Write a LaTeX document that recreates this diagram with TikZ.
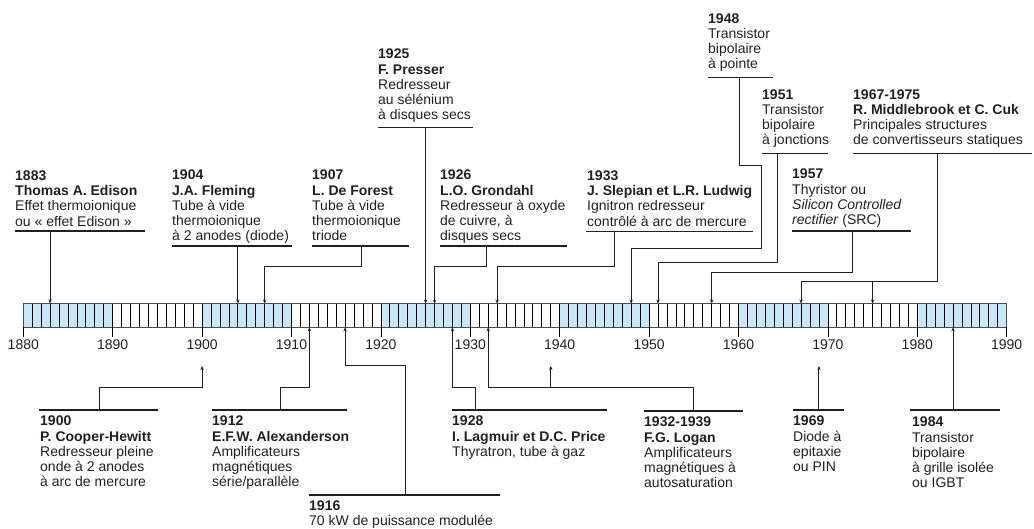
\documentclass[tikz,border=0pt]{standalone}
\usepackage{fontspec}
\setmainfont{Liberation Sans}
\usetikzlibrary{arrows.meta}
\definecolor{barblue}{RGB}{200,232,250}
\definecolor{inkgray}{RGB}{35,31,32}
\newcommand{\yrx}[1]{23.3+8.94*(#1-1880)}

\begin{document}
\begin{tikzpicture}[x=1pt, y=-1pt,
    evt/.style={anchor=north west, align=left, inner sep=0pt, text=inkgray, font=\fontsize{14}{15.2}\selectfont},
    rule/.style={inkgray, line width=1.2pt},
    arrow/.style={-{Stealth[length=4pt,width=3.4pt]}, inkgray, line width=1pt},
    tick/.style={black, line width=0.8pt}
]
    \useasboundingbox (0,0) rectangle (1034,528);

    % Time bar
    \foreach \d in {0,20,...,100}
        \fill[barblue] ({\yrx{1880+\d}},303.5) rectangle ({\yrx{1890+\d}},327.3);
    \foreach \t in {0,...,110}
        \draw[tick] ({\yrx{1880+\t}},303.5) -- ({\yrx{1880+\t}},327.3);
    \draw[black!70, line width=1.3pt] ({\yrx{1880}},303.5) rectangle ({\yrx{1990}},327.3);
    \foreach \d in {1880,1890,...,1990} {
        \draw[tick] ({\yrx{\d}},327.3) -- ({\yrx{\d}},337);
        \node[evt, anchor=center] (d\d) at ({\yrx{\d}},345) {\d};
    }

    % Points on the bar
    \foreach \y in {1883,1904,1907,1925,1926,1933,1948,1951,1957,1967,1975}
        \coordinate (t\y) at ({\yrx{\y}},303.5);
    \foreach \y in {1912,1916,1928,1932,1984}
        \coordinate (b\y) at ({\yrx{\y}},327.3);
    \foreach \y in {1900,1939,1969}
        \coordinate (b\y) at ({\yrx{\y}},366);

    % Top row
    \node[evt] (edison) at (15,170.5) {\textbf{1883}\\ \textbf{Thomas A. Edison}\\ Effet thermoionique\\ ou « effet Edison »};
    \node[evt] (fleming) at (172,170) {\textbf{1904}\\ \textbf{J.A. Fleming}\\ Tube à vide\\ thermoionique\\ à 2 anodes (diode)};
    \node[evt] (forest) at (312,170) {\textbf{1907}\\ \textbf{L. De Forest}\\ Tube à vide\\ thermoionique\\ triode};
    \node[evt] (presser) at (378,49) {\textbf{1925}\\ \textbf{F. Presser}\\ Redresseur\\ au sélénium\\ à disques secs};
    \node[evt] (grondahl) at (440,170) {\textbf{1926}\\ \textbf{L.O. Grondahl}\\ Redresseur à oxyde\\ de cuivre, à\\ disques secs};
    \node[evt] (slepian) at (587,170.5) {\textbf{1933}\\ \textbf{J. Slepian et L.R. Ludwig}\\ Ignitron redresseur\\ contrôlé à arc de mercure};
    \node[evt] (pointe) at (708,13.3) {\textbf{1948}\\ Transistor\\ bipolaire\\ à pointe};
    \node[evt] (jonction) at (762,89.3) {\textbf{1951}\\ Transistor\\ bipolaire\\ à jonctions};
    \node[evt] (thyristor) at (792,169) {\textbf{1957}\\ Thyristor ou\\ \textit{Silicon Controlled}\\ \textit{rectifier} (SRC)};
    \node[evt] (middlebrook) at (853,89.3) {\textbf{1967-1975}\\ \textbf{R. Middlebrook et C. Cuk}\\ Principales structures\\ de convertisseurs statiques};

    \draw[rule] (15,231) -- (145,231);
    \draw[rule] (172,246) -- (292,246);
    \draw[rule] (312,246) -- (409,246);
    \draw[rule] (378,127.3) -- (473,127.3);
    \draw[rule] (440,246) -- (567,246);
    \draw[rule] (586,231.5) -- (753,231.5);
    \draw[rule] (708,77.7) -- (773,77.7);
    \draw[rule] (762,153.3) -- (828,153.3);
    \draw[rule] (792,231) -- (911,231);
    \draw[rule] (853,153.3) -- (1032,153.3);

    \coordinate (edison-r) at ({\yrx{1883}},231);
    \coordinate (fleming-r) at ({\yrx{1904}},246);
    \coordinate (forest-r) at (361,246);
    \coordinate (presser-r) at ({\yrx{1925}},127.3);
    \coordinate (grondahl-r) at (486.7,246);
    \coordinate (slepian-r) at (614.3,231.5);
    \coordinate (pointe-r) at (739.3,77.7);
    \coordinate (jonction-r) at (777.3,153.3);
    \coordinate (thyristor-r) at (852,231);
    \coordinate (middlebrook-r) at (937,153.3);

    % Arrows down
    \draw[arrow] (edison-r) -- (t1883);
    \draw[arrow] (fleming-r) -- (t1904);
    \draw[arrow] (forest-r) -- ++(0,20) -| (t1907);
    \draw[arrow] (presser-r) -- (t1925);
    \draw[arrow] (grondahl-r) -- ++(0,20) -| (t1926);
    \draw[arrow] (slepian-r) -- ++(0,34.5) -| (t1933);
    \draw[arrow] (pointe-r) -- ++(0,88) -- ++(22.2,0) -- ++(0,82.3) -| (t1948);
    \draw[arrow] (jonction-r) -- ++(0,109.2) -| (t1951);
    \draw[arrow] (thyristor-r) -- ++(0,41) -| (t1957);
    \draw[arrow] (middlebrook-r) -- ++(0,127.7) coordinate (cuk-k) -| (t1967);
    \draw[arrow] (t1975 |- cuk-k) -- (t1975);

    % Bottom row
    \node[evt] (cooper) at (40,416) {\textbf{1900}\\ \textbf{P. Cooper-Hewitt}\\ Redresseur pleine\\ onde à 2 anodes\\ à arc de mercure};
    \node[evt] (alexanderson) at (212,416) {\textbf{1912}\\ \textbf{E.F.W. Alexanderson}\\ Amplificateurs\\ magnétiques\\ série/parallèle};
    \node[evt] (modulee) at (309,500.7) {\textbf{1916}\\ 70 kW de puissance modulée};
    \node[evt] (lagmuir) at (452,416) {\textbf{1928}\\ \textbf{I. Lagmuir et D.C. Price}\\ Thyratron, tube à gaz};
    \node[evt] (logan) at (644,417) {\textbf{1932-1939}\\ \textbf{F.G. Logan}\\ Amplificateurs\\ magnétiques à\\ autosaturation};
    \node[evt] (pin) at (793,416) {\textbf{1969}\\ Diode à\\ epitaxie\\ ou PIN};
    \node[evt] (igbt) at (912,417) {\textbf{1984}\\ Transistor\\ bipolaire\\ à grille isolée\\ ou IGBT};

    \draw[rule] (39,410) -- (158,410);
    \draw[rule] (212,410) -- (347,410);
    \draw[rule] (309,495) -- (500,495);
    \draw[rule] (452,410) -- (607,410);
    \draw[rule] (644,411) -- (743,411);
    \draw[rule] (793,410) -- (844,410);
    \draw[rule] (910,410) -- (1000,410);

    \coordinate (cooper-r) at (99,410);
    \coordinate (alexanderson-r) at (280,410);
    \coordinate (modulee-r) at (405,495);
    \coordinate (lagmuir-r) at (475,410);
    \coordinate (logan-r) at (693.4,411);
    \coordinate (pin-r) at ({\yrx{1969}},410);
    \coordinate (igbt-r) at ({\yrx{1984}},410);

    % Arrows up
    \draw[arrow] (cooper-r) -- ++(0,-23) -| (b1900);
    \draw[arrow] (alexanderson-r) -- ++(0,-23) -| (b1912);
    \draw[arrow] (modulee-r) -- ++(0,-130) -| (b1916);
    \draw[arrow] (lagmuir-r) -- ++(0,-23) -| (b1928);
    \draw[arrow] (logan-r) -- ++(0,-24) coordinate (logan-k) -| (b1932);
    \draw[arrow] (b1939 |- logan-k) -- (b1939);
    \draw[arrow] (pin-r) -- (b1969);
    \draw[arrow] (igbt-r) -- (b1984);
\end{tikzpicture}
\end{document}
